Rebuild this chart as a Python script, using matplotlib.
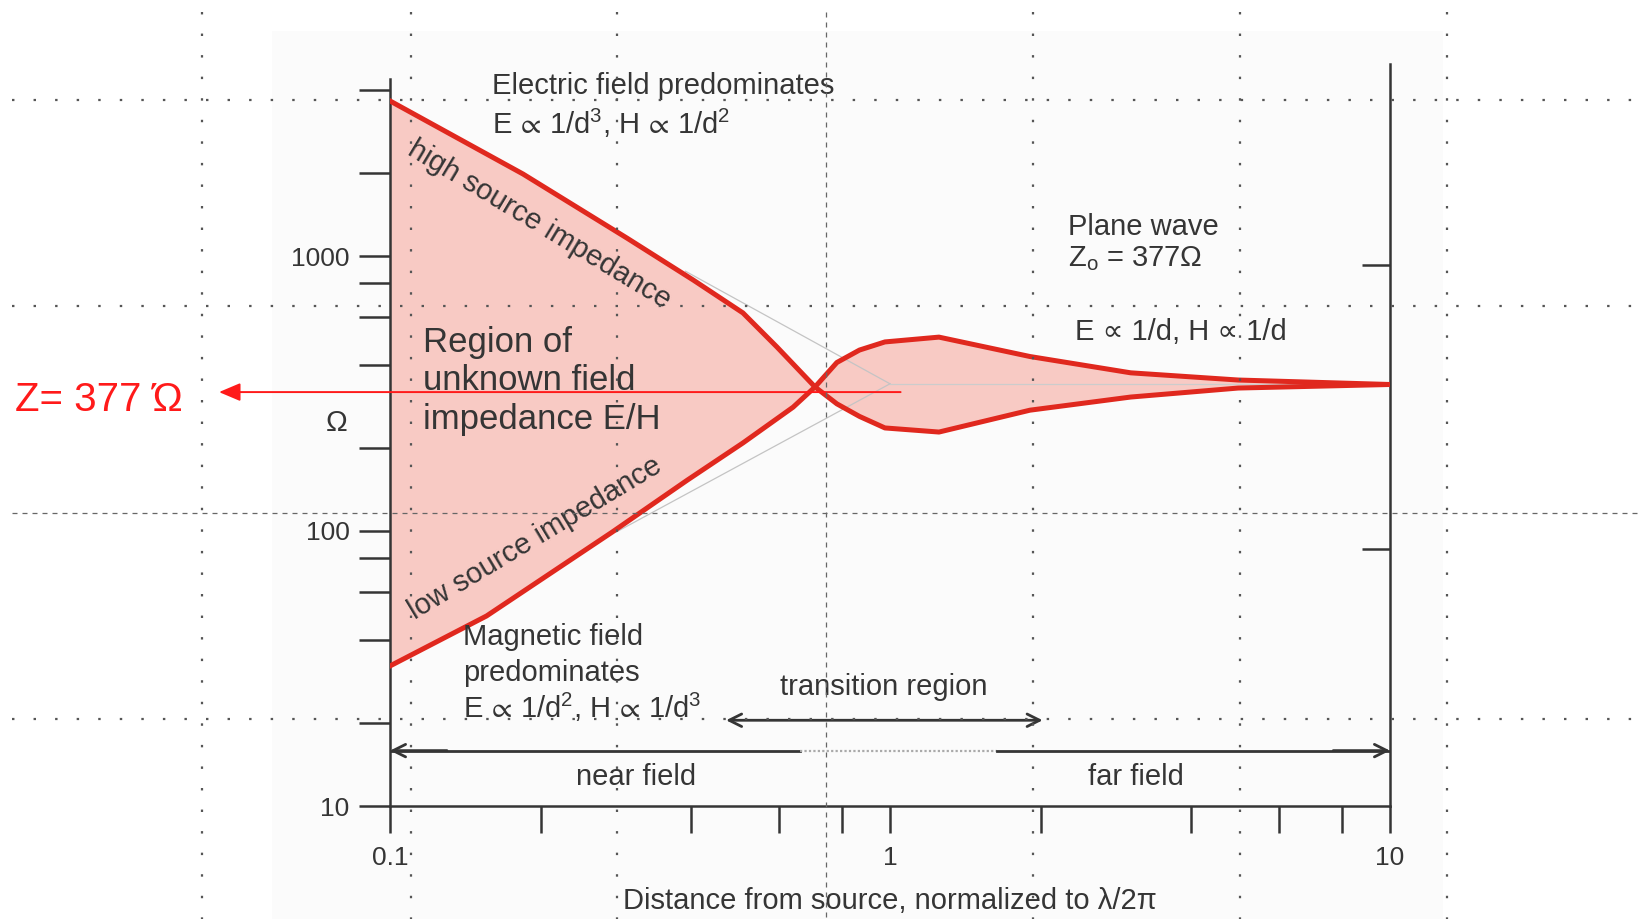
import matplotlib

matplotlib.use("Agg")
import matplotlib.pyplot as plt
from matplotlib.lines import Line2D
from matplotlib.patches import Rectangle

plt.rcParams["font.family"] = ["Liberation Sans", "DejaVu Sans"]
plt.rcParams["mathtext.fontset"] = "custom"
plt.rcParams["mathtext.rm"] = "Liberation Sans"
plt.rcParams["mathtext.it"] = "Liberation Sans:italic"
plt.rcParams["mathtext.fallback"] = "stixsans"

W, H = 1639, 919

# distance from source (normalized to lambda/2pi) and wave impedance E/H (ohm)
high_src_x = [0.1, 0.1845, 0.298, 0.404, 0.508, 0.594, 0.708, 0.783, 0.869, 0.977, 1.253, 1.905, 3.03, 4.97, 10]
high_src_z = [3664, 1987, 1161, 818, 621, 467, 334, 290, 261, 237, 229, 275, 307, 331, 341]
low_src_x = [0.1, 0.156, 0.278, 0.393, 0.508, 0.640, 0.708, 0.783, 0.869, 0.977, 1.253, 1.905, 3.03, 4.97, 10]
low_src_z = [32.3, 49.1, 99, 153, 209, 282, 334, 410, 455, 487, 507, 431, 376, 354, 341]

# thin grey asymptotes
asym_upper_x = [0.39, 1.0]
asym_upper_y = [880, 343]
asym_lower_x = [0.283, 1.0]
asym_lower_y = [99, 343]
asym_far_x = [1.0, 10.0]
asym_far_y = [343, 343]

x_ticks = [0.1, 0.2, 0.4, 0.6, 0.8, 1, 2, 4, 6, 8, 10]
x_tick_labels = ["0.1", "", "", "", "", "1", "", "", "", "", "10"]
y_ticks = [10, 20, 40, 60, 80, 100, 200, 400, 600, 800, 1000, 2000, 4000]
y_tick_labels = ["10", "", "", "", "", "100", "", "", "", "", "1000", "", ""]
right_ticks = [86, 930]

z0_level = 320
z0_arrow_x = (1.05, 0.0455)
transition_x = (0.47, 2.02)
transition_y = 20.5
field_arrow_y = 15.9
near_field_end = 0.66
far_field_start = 1.64

INK = "#353535"
RED = "#e0281e"
PINK = "#f8cac4"


def fxy(x, y):
    return x / W, 1 - y / H


def add_grid(fig):
    dotted_x = [202, 411, 617, 1033, 1240, 1447]
    dotted_y = [100, 306, 719]
    dot = dict(color="#555555", lw=1.6, linestyle=(0, (1.1, 8.6)), zorder=10)
    dash = dict(color="#666666", lw=0.9, linestyle=(0, (4, 4)), zorder=10)
    for x in dotted_x:
        fig.add_artist(Line2D([x / W] * 2, [1 - 12 / H, 0], transform=fig.transFigure, **dot))
    for y in dotted_y:
        fig.add_artist(Line2D([12 / W, 1], [1 - y / H] * 2, transform=fig.transFigure, **dot))
    fig.add_artist(Line2D([826 / W] * 2, [1 - 12 / H, 0], transform=fig.transFigure, **dash))
    fig.add_artist(Line2D([12 / W, 1], [1 - 513 / H] * 2, transform=fig.transFigure, **dash))


fig = plt.figure(figsize=(W / 100, H / 100), dpi=100)
fig.patch.set_facecolor("white")
fig.add_artist(Rectangle(fxy(272, 919), 1171 / W, 888 / H, transform=fig.transFigure,
                         facecolor="#fbfbfb", edgecolor="none", zorder=-5))

left, right = 390 / W, 1390 / W
bottom, top = 1 - 806 / H, 1 - 64 / H
ax = fig.add_axes([left, bottom, right - left, top - bottom])
ax.patch.set_alpha(0)
ax.set_xscale("log")
ax.set_yscale("log")
ax.set_xlim(0.1, 10)
ax.set_ylim(10, 10 ** (1 + 742 / 275))

ax.fill(high_src_x + low_src_x[::-1], high_src_z + low_src_z[::-1], color=PINK, lw=0, zorder=1)
ax.plot(asym_upper_x, asym_upper_y, color="#c4c4c4", lw=0.9, zorder=2)
ax.plot(asym_lower_x, asym_lower_y, color="#c4c4c4", lw=0.9, zorder=2)
ax.plot(asym_far_x, asym_far_y, color="#cccccc", lw=0.9, zorder=2)
ax.plot(high_src_x, high_src_z, color=RED, lw=3.6, solid_joinstyle="round", zorder=3)
ax.plot(low_src_x, low_src_z, color=RED, lw=3.6, solid_joinstyle="round", zorder=3)

# Z = 377 ohm marker line
ax.annotate("", xy=(z0_arrow_x[1], z0_level), xytext=(z0_arrow_x[0], z0_level),
            annotation_clip=False, zorder=6,
            arrowprops=dict(arrowstyle="-|>,head_length=1.3,head_width=0.55",
                            color="#ff1a1a", lw=1.4, shrinkA=0, shrinkB=0))

# transition region arrow
ax.annotate("", xy=(transition_x[1], transition_y), xytext=(transition_x[0], transition_y),
            annotation_clip=False,
            arrowprops=dict(arrowstyle="<->,head_length=0.9,head_width=0.45",
                            color=INK, lw=2.0, shrinkA=0, shrinkB=0))

# near field / far field arrow
ax.plot([0.1, near_field_end], [field_arrow_y] * 2, color=INK, lw=2.0, zorder=4)
ax.plot([near_field_end, far_field_start], [field_arrow_y] * 2, color="#aaaaaa", lw=1.6,
        linestyle=(0, (1, 1)), zorder=4)
ax.plot([far_field_start, 10], [field_arrow_y] * 2, color=INK, lw=2.0, zorder=4)
for tip, tail in [(0.1, 0.13), (10, 7.7)]:
    ax.annotate("", xy=(tip, field_arrow_y), xytext=(tail, field_arrow_y),
                arrowprops=dict(arrowstyle="->,head_length=0.9,head_width=0.45",
                                color=INK, lw=2.0, shrinkA=0, shrinkB=0))

# axes styling
ax.spines["top"].set_visible(False)
for side in ["left", "right", "bottom"]:
    ax.spines[side].set_color(INK)
    ax.spines[side].set_linewidth(1.8)
ax.spines["left"].set_bounds(10, 4400)

ax.xaxis.set_minor_locator(plt.NullLocator())
ax.yaxis.set_minor_locator(plt.NullLocator())
ax.set_xticks(x_ticks)
ax.set_xticklabels(x_tick_labels)
ax.set_yticks(y_ticks)
ax.set_yticklabels(y_tick_labels)
ax.tick_params(axis="x", direction="out", length=19.5, width=1.8, color=INK,
               labelsize=19, labelcolor=INK, pad=9)
ax.tick_params(axis="y", direction="out", length=22, width=1.8, color=INK,
               labelsize=19, labelcolor=INK, pad=7)

ax_r = ax.twinx()
ax_r.set_yscale("log")
ax_r.set_ylim(ax.get_ylim())
ax_r.yaxis.set_minor_locator(plt.NullLocator())
ax_r.set_yticks(right_ticks)
ax_r.set_yticklabels([])
ax_r.tick_params(axis="y", direction="in", length=20, width=1.8, color=INK)
for side in ["top", "left", "bottom", "right"]:
    ax_r.spines[side].set_visible(False)

# texts
txt = dict(color=INK, fontsize=21, va="center")
fig.text(*fxy(337, 423), "Ω", ha="center", **txt)
fig.text(*fxy(492, 86), "Electric field predominates", ha="left", **txt)
fig.text(*fxy(492, 123), r"E$\,{\propto}\,$1/d$^3$, H$\,{\propto}\,$1/d$^2$", ha="left", **txt)
fig.text(*fxy(539, 225), "high source impedance", ha="center", rotation=-31,
         rotation_mode="anchor", **txt)
fig.text(*fxy(535, 538), "low source impedance", ha="center", rotation=31,
         rotation_mode="anchor", **txt)
fig.text(*fxy(423, 381), "Region of\nunknown field\nimpedance E/H", ha="left",
         linespacing=1.2, color=INK, fontsize=25, va="center")
fig.text(*fxy(1068, 227), "Plane wave", ha="left", **txt)
fig.text(*fxy(1068, 259), r"Z$_\mathrm{o}$ = 377Ω", ha="left", **txt)
fig.text(*fxy(1075, 332), "E ∝ 1/d, H ∝ 1/d", ha="left", **txt)
fig.text(*fxy(463, 637), "Magnetic field", ha="left", **txt)
fig.text(*fxy(463, 673), "predominates", ha="left", **txt)
fig.text(*fxy(463, 707), r"E$\,{\propto}\,$1/d$^2$, H$\,{\propto}\,$1/d$^3$", ha="left", **txt)
fig.text(*fxy(884, 687), "transition region", ha="center", **txt)
fig.text(*fxy(636, 777), "near field", ha="center", **txt)
fig.text(*fxy(1136, 777), "far field", ha="center", **txt)
fig.text(*fxy(890, 901), "Distance from source, normalized to λ/2π", ha="center", **txt)
fig.text(*fxy(15, 400), "Z= 377 Ώ", ha="left", va="center", color="#ff1a1a", fontsize=29)

add_grid(fig)

fig.savefig("out.png", dpi=100)
plt.close(fig)
